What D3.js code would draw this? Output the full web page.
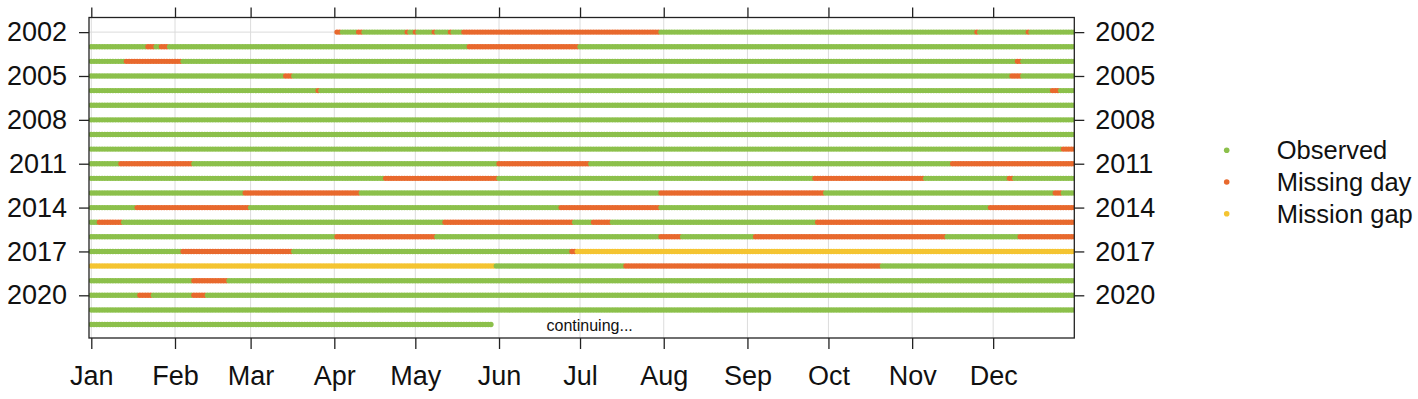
<!DOCTYPE html>
<html>
<head>
<meta charset="utf-8">
<script src="https://cdn.jsdelivr.net/npm/d3@7.9.0/dist/d3.min.js"></script>
<style>
  body { margin: 0; background: #fff; }
  svg { display: block; font-family: "Liberation Sans", Arial, Helvetica, sans-serif; }
  .axis path { display: none; }
  .axis line { stroke: #222; stroke-width: 1.3; }
  .axis text { fill: #111; }
</style>
</head>
<body>
<div id="chart"></div>
<script>
// rows of the chart, one per year
const years = [2002, 2003, 2004, 2005, 2006, 2007, 2008, 2009, 2010, 2011, 2012,
               2013, 2014, 2015, 2016, 2017, 2018, 2019, 2020, 2021, 2022];

// first and last day of year with a record
const coverage = [
  [92, 365], [1, 365], [1, 365], [1, 365], [1, 365], [1, 365], [1, 365],
  [1, 365], [1, 365], [1, 365], [1, 365], [1, 365], [1, 365], [1, 365],
  [1, 365], [1, 365], [1, 365], [1, 365], [1, 365], [1, 365], [1, 149]
];

// day-of-year ranges with missing days
const missingDays = [
  [[92, 93], [100, 101], [118, 118], [121, 121], [128, 128], [134, 134], [139, 211], [329, 329], [348, 348]],
  [[22, 24], [27, 29], [141, 181]],
  [[14, 34], [344, 345]],
  [[73, 75], [342, 345]],
  [[85, 85], [357, 359]],
  [],
  [],
  [],
  [[361, 365]],
  [[12, 38], [152, 185], [320, 365]],
  [[110, 151], [269, 309], [341, 342]],
  [[58, 100], [212, 272], [358, 360]],
  [[18, 59], [175, 211], [334, 365]],
  [[4, 12], [132, 179], [187, 193], [270, 365]],
  [[92, 128], [212, 219], [247, 317], [345, 365]],
  [[35, 75], [179, 180]],
  [[199, 293]],
  [[39, 51]],
  [[19, 23], [39, 43]],
  [],
  []
];

// day-of-year ranges inside the gap between missions
const missionGap = [
  [], [], [], [], [], [], [], [], [], [], [], [], [], [], [],
  [[181, 365]],
  [[1, 150]],
  [], [], [], []
];

const yearTicks = [2002, 2005, 2008, 2011, 2014, 2017, 2020];
const monthLabels = ['Jan', 'Feb', 'Mar', 'Apr', 'May', 'Jun', 'Jul', 'Aug', 'Sep', 'Oct', 'Nov', 'Dec'];
const monthStarts = [1, 32, 60, 91, 121, 152, 182, 213, 244, 274, 305, 335];

const categories = ['Observed', 'Missing day', 'Mission gap'];
const colors = ['#8cc04b', '#e8692d', '#f4c431'];

const width = 1418;
const height = 399;

const plot = { left: 89, right: 1074.3, top: 17.5, bottom: 338 };

const xScale = d3.scaleLinear().domain([0.15, 365.05]).range([plot.left, plot.right]);
const yScale = d3.scaleLinear().domain([2001, 2022.92]).range([plot.top, plot.bottom]);
const color = d3.scaleOrdinal().domain(categories).range(colors);

const inRanges = (day, ranges) => ranges.some(([a, b]) => day >= a && day <= b);

// one point per day, status from the ranges above
const points = years.flatMap((year, i) => {
  const [first, last] = coverage[i];
  const out = [];
  for (let day = first; day <= last; day++) {
    let status = 'Observed';
    if (inRanges(day, missionGap[i])) status = 'Mission gap';
    else if (inRanges(day, missingDays[i])) status = 'Missing day';
    out.push({ year, day, status });
  }
  return out;
});

const svg = d3.select('#chart')
  .append('svg')
  .attr('width', width)
  .attr('height', height);

svg.append('clipPath')
  .attr('id', 'plot-clip')
  .append('rect')
  .attr('x', plot.left).attr('y', plot.top)
  .attr('width', plot.right - plot.left)
  .attr('height', plot.bottom - plot.top);

// gridlines
svg.append('g')
  .selectAll('line')
  .data(monthStarts)
  .join('line')
  .attr('x1', d => xScale(d)).attr('x2', d => xScale(d))
  .attr('y1', plot.top).attr('y2', plot.bottom)
  .attr('stroke', '#dcdcdc')
  .attr('stroke-width', 1);

svg.append('g')
  .selectAll('line')
  .data(yearTicks)
  .join('line')
  .attr('x1', plot.left).attr('x2', plot.right)
  .attr('y1', d => yScale(d)).attr('y2', d => yScale(d))
  .attr('stroke', '#dcdcdc')
  .attr('stroke-width', 1);

// daily dots
svg.append('g')
  .attr('class', 'dots')
  .attr('clip-path', 'url(#plot-clip)')
  .selectAll('circle')
  .data(points)
  .join('circle')
  .attr('cx', d => xScale(d.day))
  .attr('cy', d => yScale(d.year))
  .attr('r', 2.7)
  .attr('fill', d => color(d.status));

svg.append('text')
  .attr('x', 546.5)
  .attr('y', yScale(2022) + 6.5)
  .attr('font-size', 16)
  .attr('fill', '#111')
  .text('continuing...');

// frame
svg.append('rect')
  .attr('x', plot.left).attr('y', plot.top)
  .attr('width', plot.right - plot.left)
  .attr('height', plot.bottom - plot.top)
  .attr('fill', 'none')
  .attr('stroke', '#222')
  .attr('stroke-width', 1.3);

// axes
const monthFormat = d => monthLabels[monthStarts.indexOf(d)];

svg.append('g')
  .attr('class', 'axis')
  .attr('transform', `translate(0, ${plot.bottom})`)
  .call(d3.axisBottom(xScale).tickValues(monthStarts).tickFormat(monthFormat).tickSize(11).tickPadding(17))
  .selectAll('text').attr('font-size', 27);

svg.append('g')
  .attr('class', 'axis')
  .attr('transform', `translate(0, ${plot.top})`)
  .call(d3.axisTop(xScale).tickValues(monthStarts).tickFormat('').tickSize(10));

svg.append('g')
  .attr('class', 'axis')
  .attr('transform', `translate(${plot.left}, 0)`)
  .call(d3.axisLeft(yScale).tickValues(yearTicks).tickFormat(d3.format('d')).tickSize(10).tickPadding(12))
  .selectAll('text').attr('font-size', 27);

svg.append('g')
  .attr('class', 'axis')
  .attr('transform', `translate(${plot.right}, 0)`)
  .call(d3.axisRight(yScale).tickValues(yearTicks).tickFormat(d3.format('d')).tickSize(10).tickPadding(11))
  .selectAll('text').attr('font-size', 27);

// legend
const legend = svg.append('g')
  .selectAll('g')
  .data(categories)
  .join('g')
  .attr('transform', (d, i) => `translate(1226.7, ${150.3 + i * 31.7})`);

legend.append('circle')
  .attr('r', 2.8)
  .attr('fill', d => color(d));

legend.append('text')
  .attr('x', 50)
  .attr('dy', '0.35em')
  .attr('font-size', 25.5)
  .attr('fill', '#111')
  .text(d => d);
</script>
</body>
</html>
